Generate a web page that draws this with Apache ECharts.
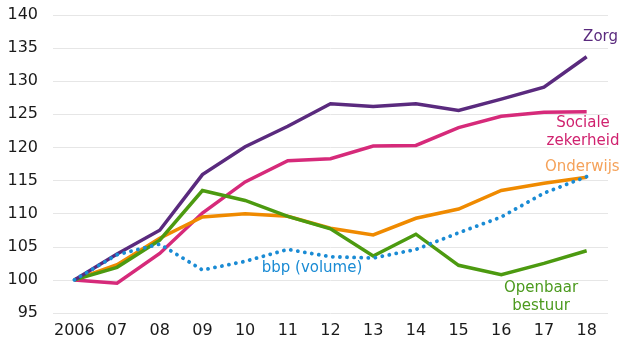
<!DOCTYPE html>
<html>
<head>
<meta charset="utf-8">
<script src="https://cdn.jsdelivr.net/npm/echarts@6/dist/echarts.min.js"></script>
<style>
  html, body { margin: 0; padding: 0; background: #ffffff; }
  #chart { width: 626px; height: 342px; }
</style>
</head>
<body>
<div id="chart"></div>
<script>
// Index of spending (2006 = 100) per sector, with GDP volume for reference
var years = ['2006', '07', '08', '09', '10', '11', '12', '13', '14', '15', '16', '17', '18'];
var zorg = [100, 103.9, 107.5, 115.9, 120.1, 123.2, 126.6, 126.2, 126.6, 125.6, 127.3, 129.1, 133.7];
var socialeZekerheid = [100, 99.5, 104.0, 110.1, 114.8, 118.0, 118.3, 120.2, 120.3, 123.0, 124.7, 125.3, 125.4];
var onderwijs = [100, 102.3, 106.3, 109.5, 110.0, 109.6, 107.8, 106.8, 109.3, 110.7, 113.5, 114.6, 115.5];
var openbaarBestuur = [100, 101.9, 106.0, 113.5, 112.0, 109.6, 107.7, 103.6, 106.9, 102.2, 100.8, 102.5, 104.4];
var bbpVolume = [100, 103.8, 105.4, 101.5, 102.8, 104.6, 103.5, 103.3, 104.6, 107.1, 109.5, 113.1, 115.6];

var FONT = '"DejaVu Sans", Verdana, sans-serif';

function lineSeries(name, data, color, z) {
  return {
    name: name,
    type: 'line',
    data: data,
    symbol: 'none',
    z: z,
    lineStyle: { color: color, width: 3.5, join: 'miter' },
    emphasis: { disabled: true }
  };
}

function label(text, x, y, color, align) {
  return {
    type: 'text',
    x: x,
    y: y,
    z: 10,
    style: {
      text: text,
      fill: color,
      font: '15px ' + FONT,
      textAlign: align || 'center',
      textVerticalAlign: 'middle'
    }
  };
}

var chart = echarts.init(document.getElementById('chart'), null, { renderer: 'canvas' });

chart.setOption({
  animation: false,
  backgroundColor: '#ffffff',
  grid: { left: 53, right: 18, top: 15, bottom: 29, containLabel: false },
  xAxis: {
    type: 'category',
    data: years,
    boundaryGap: true,
    axisLine: { show: false },
    axisTick: { show: false },
    splitLine: { show: false },
    axisLabel: { color: '#1a1a1a', fontSize: 16, fontFamily: FONT, margin: 10, interval: 0 }
  },
  yAxis: {
    type: 'value',
    min: 95,
    max: 140,
    interval: 5,
    axisLine: { show: false },
    axisTick: { show: false },
    splitLine: { lineStyle: { color: '#e6e6e6', width: 1 } },
    axisLabel: { color: '#1a1a1a', fontSize: 16, fontFamily: FONT, margin: 15 }
  },
  series: [
    lineSeries('Sociale zekerheid', socialeZekerheid, '#d62a7a', 2),
    lineSeries('Onderwijs', onderwijs, '#ef8a00', 3),
    lineSeries('Openbaar bestuur', openbaarBestuur, '#4c9a10', 4),
    lineSeries('Zorg', zorg, '#5a2a7e', 5),
    {
      name: 'bbp (volume)',
      type: 'line',
      data: bbpVolume,
      symbol: 'none',
      z: 6,
      lineStyle: { color: '#1a8bd4', width: 3.8, type: [0.1, 7], cap: 'round' },
      emphasis: { disabled: true }
    }
  ],
  graphic: [
    label('Zorg', 618, 37, '#5a2a7e', 'right'),
    label('Sociale', 583, 123, '#d0226f'),
    label('zekerheid', 583, 141, '#d0226f'),
    label('Onderwijs', 545, 167, '#f5a25a', 'left'),
    label('bbp (volume)', 312, 268, '#1a8bd4'),
    label('Openbaar', 541, 288, '#4c9a1e'),
    label('bestuur', 541, 306, '#4c9a1e')
  ]
});
</script>
</body>
</html>
